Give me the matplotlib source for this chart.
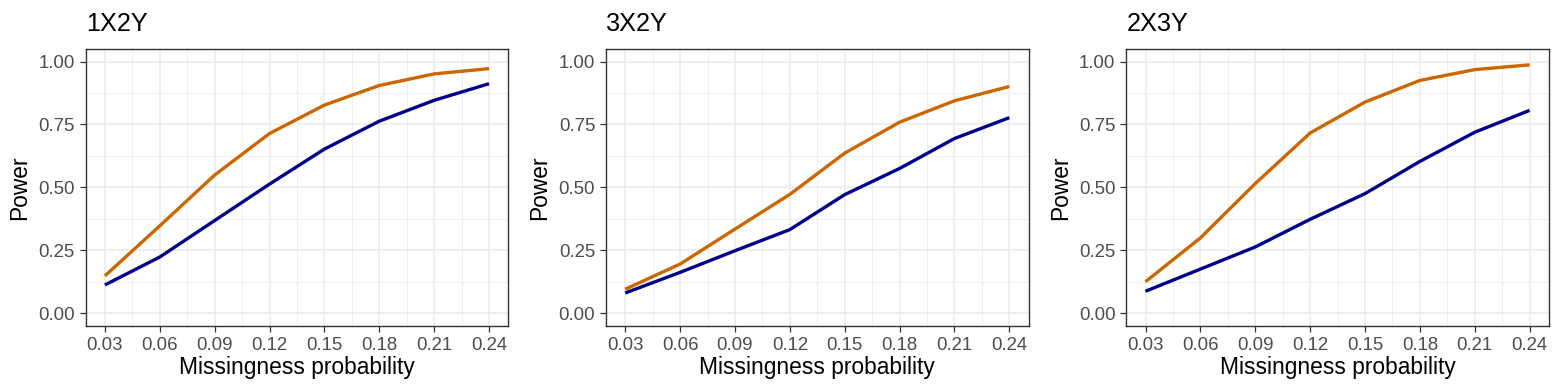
import matplotlib
matplotlib.use("Agg")
import matplotlib.pyplot as plt
import numpy as np

plt.rcParams['font.family'] = ['Liberation Sans', 'DejaVu Sans']

missing_prob = [0.03, 0.06, 0.09, 0.12, 0.15, 0.18, 0.21, 0.24]
tick_labels = ["0.03", "0.06", "0.09", "0.12", "0.15", "0.18", "0.21", "0.24"]
panel_titles = ["1X2Y", "3X2Y", "2X3Y"]

orange_1x2y = [0.148, 0.347, 0.549, 0.714, 0.827, 0.905, 0.951, 0.972]
blue_1x2y = [0.112, 0.223, 0.368, 0.513, 0.652, 0.763, 0.846, 0.912]
orange_3x2y = [0.095, 0.195, 0.334, 0.472, 0.636, 0.759, 0.844, 0.901]
blue_3x2y = [0.080, 0.162, 0.248, 0.332, 0.471, 0.575, 0.694, 0.777]
orange_2x3y = [0.125, 0.299, 0.515, 0.716, 0.839, 0.925, 0.968, 0.987]
blue_2x3y = [0.087, 0.175, 0.263, 0.373, 0.475, 0.603, 0.719, 0.806]

orange_series = [orange_1x2y, orange_3x2y, orange_2x3y]
blue_series = [blue_1x2y, blue_3x2y, blue_2x3y]

W, H = 1563, 392
fig = plt.figure(figsize=(W / 100, H / 100), dpi=100)

lefts = [85.7, 606.0, 1126.3]
width = 422.5
top, bottom = 49.0, 325.7

for i in range(3):
    ax = fig.add_axes([lefts[i] / W, 1 - bottom / H, width / W, (bottom - top) / H])
    ax.set_xlim(0.0195, 0.2505)
    ax.set_ylim(-0.05, 1.05)
    ax.set_xticks(missing_prob)
    ax.set_xticklabels(tick_labels)
    ax.set_yticks([0, 0.25, 0.5, 0.75, 1.0])
    ax.set_yticklabels(["0.00", "0.25", "0.50", "0.75", "1.00"])
    ax.set_xticks([0.045, 0.075, 0.105, 0.135, 0.165, 0.195, 0.225], minor=True)
    ax.set_yticks([0.125, 0.375, 0.625, 0.875], minor=True)
    ax.grid(which='major', color='#EBEBEB', linewidth=1.1)
    ax.grid(which='minor', color='#EBEBEB', linewidth=0.55)
    ax.set_axisbelow(True)
    ax.tick_params(which='minor', length=0)
    ax.tick_params(which='major', length=4.3, color='#333333', width=0.9,
                   labelsize=13.4, labelcolor='#4D4D4D', pad=3.5)
    for s in ax.spines.values():
        s.set_color('#333333')
        s.set_linewidth(1.0)
    ax.plot(missing_prob, orange_series[i], color='#CD6600', linewidth=2.4, solid_capstyle='butt')
    ax.plot(missing_prob, blue_series[i], color='#00008B', linewidth=2.4, solid_capstyle='butt')
    ax.set_xlabel("Missingness probability", fontsize=16.4, color='black', labelpad=2)
    ax.set_ylabel("Power", fontsize=16.4, color='black', labelpad=5)
    ax.set_title(panel_titles[i], fontsize=18.2, loc='left', pad=13, color='black')

fig.savefig("out.png", dpi=100)
